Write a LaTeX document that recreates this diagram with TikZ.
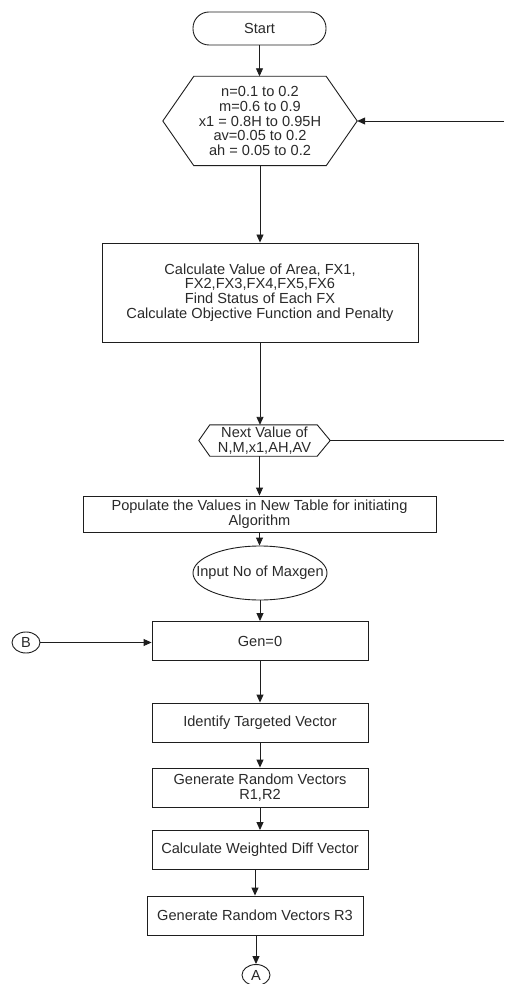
\documentclass[tikz,border=0pt]{standalone}
\usepackage{fontspec}
\setmainfont{Liberation Sans}
\usetikzlibrary{shapes.geometric,arrows.meta,calc}
\definecolor{txt}{HTML}{2A2A2A}
\definecolor{ln}{HTML}{1E1E1E}
\tikzset{
  base/.style={text=txt, font=\fontsize{14.6}{14.7}\selectfont, align=center, inner sep=0pt},
  boxnode/.style={base, draw=ln, line width=0.9pt, rectangle},
  termnode/.style={boxnode, rounded corners=16pt},
  hexnode/.style={base, draw=none, rectangle},
  ellnode/.style={base, draw=ln, line width=0.9pt, ellipse},
  hexline/.style={draw=ln, line width=0.9pt},
  flow/.style={draw=ln, line width=0.9pt, -{Triangle[length=8pt,width=7pt]}},
  plainline/.style={draw=ln, line width=0.9pt}
}
\begin{document}
\begin{tikzpicture}[x=1pt,y=-1pt]
\useasboundingbox[fill=white] (0,0) rectangle (504,984);

\node[termnode, minimum width=133pt, minimum height=33pt] (start) at (259.5,28.5) {Start};

\node[hexnode, minimum width=194pt, minimum height=89pt] (hex1) at (260,121)
  {n=0.1 to 0.2\\m=0.6 to 0.9\\x1 = 0.8H to 0.95H\\av=0.05 to 0.2\\ah = 0.05 to 0.2};
\draw[hexline] (hex1.west) -- ($(hex1.north west)+(31,0)$) -- ($(hex1.north east)+(-31,0)$)
  -- (hex1.east) -- ($(hex1.south east)+(-31,0)$) -- ($(hex1.south west)+(31,0)$) -- cycle;

\node[boxnode, minimum width=316pt, minimum height=99pt] (calc) at (260,292.5)
  {Calculate Value of Area, FX1,\\FX2,FX3,FX4,FX5,FX6\\Find Status of Each FX\\Calculate Objective Function and Penalty};

\node[hexnode, minimum width=131pt, minimum height=31pt] (nv) at (264.5,440.5)
  {Next Value of\\N,M,x1,AH,AV};
\draw[hexline] (nv.west) -- ($(nv.north west)+(11,0)$) -- ($(nv.north east)+(-13,0)$)
  -- (nv.east) -- ($(nv.south east)+(-13,0)$) -- ($(nv.south west)+(11,0)$) -- cycle;

\node[boxnode, minimum width=353pt, minimum height=36pt] (pop) at (259.5,514)
  {Populate the Values in New Table for initiating\\Algorithm};

\node[ellnode, minimum width=134pt, minimum height=54pt] (maxg) at (260,573) {};
\node[base] (maxgt) at (260,573) {Input No of Maxgen};

\node[boxnode, minimum width=216pt, minimum height=39pt] (gen) at (260,641) {Gen=0};
\node[boxnode, minimum width=216pt, minimum height=39pt] (ident) at (260,722.5) {Identify Targeted Vector};
\node[boxnode, minimum width=216pt, minimum height=39pt] (r12) at (260,787.5) {Generate Random Vectors\\R1,R2};
\node[boxnode, minimum width=216pt, minimum height=39pt] (wd) at (260,850) {Calculate Weighted Diff Vector};
\node[boxnode, minimum width=216pt, minimum height=39pt] (r3) at (255,915.5) {Generate Random Vectors R3};

\node[ellnode, minimum width=28pt, minimum height=21pt] (A) at (256,975) {A};
\node[ellnode, minimum width=28pt, minimum height=21pt] (B) at (26,642.5) {B};

\coordinate (edgeNV) at (504,440.5);
\coordinate (edgeHex) at (504,121);

\draw[flow] (start.south) -- (start.south |- hex1.north);
\draw[flow] (hex1.south) -- (calc.north);
\draw[flow] (calc.south) -- (calc.south |- nv.north);
\draw[flow] (pop.north |- nv.south) -- (pop.north);
\draw[flow] (pop.south) -- (pop.south |- maxg.north);
\draw[flow] (maxg.south) -- (gen.north);
\draw[flow] (gen.south) -- (ident.north);
\draw[flow] (ident.south) -- (r12.north);
\draw[flow] (r12.south) -- (wd.north);
\draw[flow] (r3.north |- wd.south) -- (r3.north);
\draw[flow] (A.north |- r3.south) -- (A.north);
\draw[flow] (B.east) -- (gen.west |- B.east);
\draw[plainline] (nv.east) -- (edgeNV);
\draw[flow] (edgeHex) -- (hex1.east);
\end{tikzpicture}
\end{document}
